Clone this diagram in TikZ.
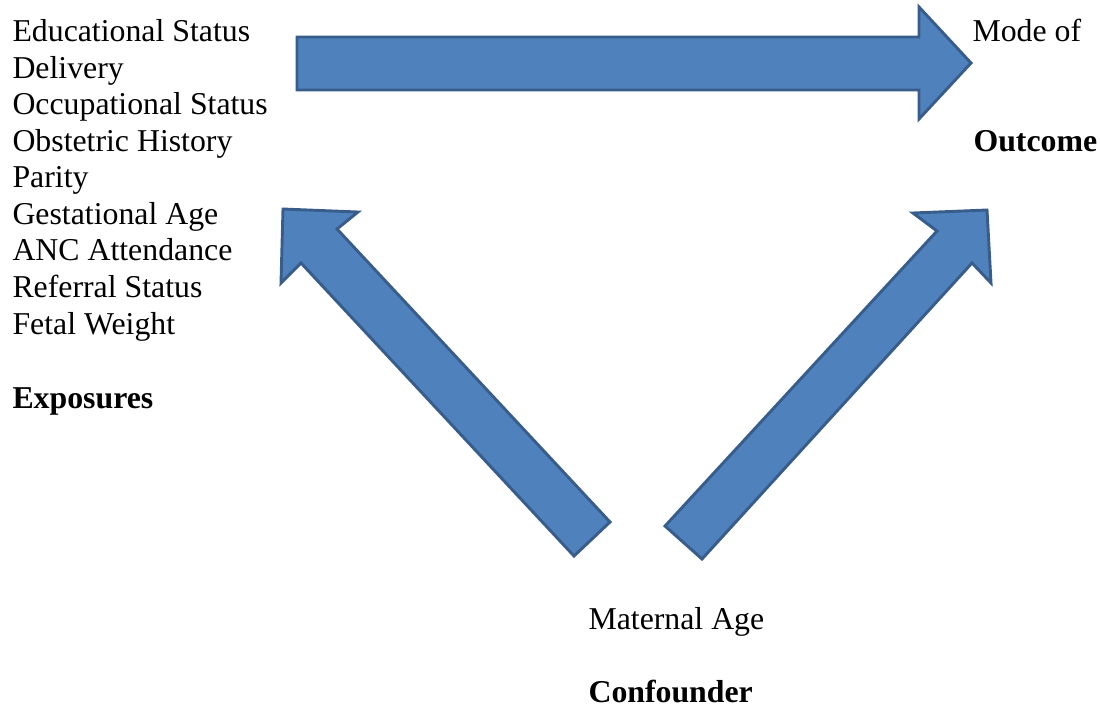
\documentclass[tikz,border=0pt]{standalone}
\usepackage{fontspec}
\setmainfont{Liberation Serif}
\definecolor{arrfill}{HTML}{4F81BD}
\definecolor{arrdraw}{HTML}{385D8A}
\begin{document}
\begin{tikzpicture}[x=0.3774pt,y=-0.3774pt,
  blockarrow/.style={fill=arrfill,draw=arrdraw,line width=1.1pt,line join=miter},
  lbl/.style={anchor=base west,inner sep=0pt,font=\fontsize{12}{13.8}\selectfont},
  blbl/.style={lbl,font=\fontsize{12}{13.8}\selectfont\bfseries}]
\useasboundingbox (0,0) rectangle (1100,708);
% horizontal arrow (exposures -> outcome)
\draw[blockarrow] (297,37) -- (919,37) -- (919,7) -- (971,63) -- (919,119) -- (919,90) -- (297,90) -- cycle;
% left diagonal arrow (confounder -> exposures)
\draw[blockarrow] (610,522) -- (337,229) -- (358,212) -- (283,209) -- (281,283) -- (301,263) -- (574,556) -- cycle;
% right diagonal arrow (confounder -> outcome)
\draw[blockarrow] (665,526) -- (937,231) -- (913,213) -- (987,210) -- (991,283) -- (972,263) -- (702,559) -- cycle;
% exposures text
\node[lbl] (e1) at (12,41) {Educational Status};
\node[lbl] (e2) at (12,78) {Delivery};
\node[lbl] (e3) at (12,114) {Occupational Status};
\node[lbl] (e4) at (12,151) {Obstetric History};
\node[lbl] (e5) at (12,187) {Parity};
\node[lbl] (e6) at (12,224) {Gestational Age};
\node[lbl] (e7) at (12,260) {ANC Attendance};
\node[lbl] (e8) at (12,297) {Referral Status};
\node[lbl] (e9) at (12,334) {Fetal Weight};
\node[blbl] (exp) at (12,408) {Exposures};
% outcome
\node[lbl] (o1) at (972,41) {Mode of};
\node[blbl] (out) at (973,151) {Outcome};
% confounder
\node[lbl] (c1) at (588,629) {Maternal Age};
\node[blbl] (conf) at (588,702) {Confounder};
\end{tikzpicture}
\end{document}
